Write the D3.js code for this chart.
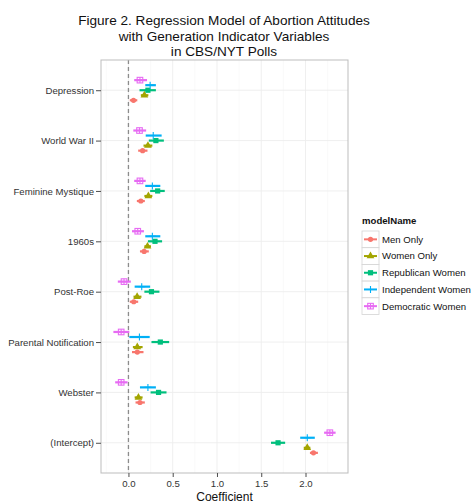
<!DOCTYPE html>
<html>
<head>
<meta charset="utf-8">
<script src="https://cdn.jsdelivr.net/npm/d3@7"></script>
<style>
body { margin: 0; background: #fff; }
svg text { font-family: Arial, "Liberation Sans", sans-serif; }
</style>
</head>
<body>
<div id="chart"></div>
<script>
// categories top to bottom
var terms = ["Depression", "World War II", "Feminine Mystique", "1960s",
             "Post-Roe", "Parental Notification", "Webster", "(Intercept)"];
var models = ["Men Only", "Women Only", "Republican Women", "Independent Women", "Democratic Women"];
var colors = ["#F8766D", "#A3A500", "#00BF7D", "#00B0F6", "#E76BF3"];
var xTicks = [0, 0.5, 1, 1.5, 2];
var xMinor = [-0.25, 0.25, 0.75, 1.25, 1.75, 2.25];
var titleLines = ["Figure 2. Regression Model of Abortion Attitudes",
                  "with Generation Indicator Variables",
                  "in CBS/NYT Polls"];

// estimates and interval ends, one entry per term
var menEst = [0.057, 0.16, 0.14, 0.177, 0.06, 0.10, 0.13, 2.09];
var menLo  = [0.015, 0.11, 0.095, 0.13, 0.015, 0.04, 0.08, 2.05];
var menHi  = [0.10, 0.215, 0.185, 0.23, 0.11, 0.17, 0.185, 2.14];

var womenEst = [0.18, 0.22, 0.225, 0.215, 0.098, 0.10, 0.113, 2.02];
var womenLo  = [0.14, 0.17, 0.18, 0.18, 0.057, 0.05, 0.07, 1.98];
var womenHi  = [0.225, 0.27, 0.27, 0.255, 0.147, 0.16, 0.16, 2.055];

var repEst = [0.22, 0.31, 0.33, 0.30, 0.26, 0.36, 0.34, 1.69];
var repLo  = [0.125, 0.23, 0.245, 0.22, 0.18, 0.26, 0.25, 1.61];
var repHi  = [0.31, 0.40, 0.41, 0.38, 0.35, 0.46, 0.43, 1.77];

var indEst = [0.245, 0.28, 0.27, 0.27, 0.15, 0.124, 0.22, 2.02];
var indLo  = [0.19, 0.195, 0.19, 0.19, 0.07, 0.01, 0.13, 1.94];
var indHi  = [0.31, 0.375, 0.36, 0.36, 0.245, 0.24, 0.31, 2.105];

var demEst = [0.13, 0.125, 0.13, 0.105, -0.05, -0.082, -0.082, 2.275];
var demLo  = [0.065, 0.055, 0.065, 0.04, -0.12, -0.17, -0.15, 2.21];
var demHi  = [0.21, 0.2, 0.195, 0.175, 0.027, 0.01, -0.01, 2.34];

var estimates = [menEst, womenEst, repEst, indEst, demEst];
var lows = [menLo, womenLo, repLo, indLo, demLo];
var highs = [menHi, womenHi, repHi, indHi, demHi];

var W = 472, H = 504;
var panel = {left: 101, right: 348, top: 60, bottom: 473};
var FONT = "Arial, 'Liberation Sans', sans-serif";

var svg = d3.select("#chart").append("svg")
    .attr("width", W).attr("height", H);

var x = d3.scaleLinear().domain([-0.31, 2.48]).range([panel.left, panel.right]);
var y = d3.scalePoint().domain(terms).range([panel.top, panel.bottom]).padding(0.6);
var dodge = d3.scalePoint().domain(models).range([0.2, -0.2]);
var color = d3.scaleOrdinal().domain(models).range(colors);

// rows for drawing
var rows = [];
models.forEach(function(m, i){
    terms.forEach(function(t, j){
        rows.push({model: m, term: t, est: estimates[i][j], lo: lows[i][j], hi: highs[i][j]});
    });
});
function yPos(d){ return y(d.term) + dodge(d.model) * y.step(); }

// panel background + grid
svg.append("rect")
    .attr("x", panel.left).attr("y", panel.top)
    .attr("width", panel.right - panel.left).attr("height", panel.bottom - panel.top)
    .attr("fill", "#fff");

svg.selectAll(".minor").data(xMinor).enter().append("line")
    .attr("x1", x).attr("x2", x)
    .attr("y1", panel.top).attr("y2", panel.bottom)
    .attr("stroke", "#F7F7F7").attr("stroke-width", 0.6);
svg.selectAll(".majorx").data(xTicks).enter().append("line")
    .attr("x1", x).attr("x2", x)
    .attr("y1", panel.top).attr("y2", panel.bottom)
    .attr("stroke", "#EDEDED").attr("stroke-width", 0.9);
svg.selectAll(".majory").data(terms).enter().append("line")
    .attr("x1", panel.left).attr("x2", panel.right)
    .attr("y1", y).attr("y2", y)
    .attr("stroke", "#EDEDED").attr("stroke-width", 0.9);

// zero line
svg.append("line")
    .attr("x1", x(0)).attr("x2", x(0))
    .attr("y1", panel.top).attr("y2", panel.bottom)
    .attr("stroke", "#8C8C8C").attr("stroke-width", 1.3)
    .attr("stroke-dasharray", "4,3");

// marker drawing
function drawMarker(g, model, cx, cy){
    var c = color(model);
    if(model === "Men Only"){
        g.append("circle").attr("cx", cx).attr("cy", cy).attr("r", 2.6).attr("fill", c);
    } else if(model === "Women Only"){
        g.append("path").attr("transform", "translate(" + cx + "," + cy + ")")
            .attr("d", d3.symbol().type(d3.symbolTriangle).size(26)).attr("fill", c);
    } else if(model === "Republican Women"){
        g.append("rect").attr("x", cx - 2.6).attr("y", cy - 2.6)
            .attr("width", 5.2).attr("height", 5.2).attr("fill", c);
    } else if(model === "Independent Women"){
        g.append("path").attr("d", "M" + (cx - 3.5) + "," + cy + "H" + (cx + 3.5) +
                "M" + cx + "," + (cy - 3.5) + "V" + (cy + 3.5))
            .attr("stroke", c).attr("stroke-width", 1.1).attr("fill", "none");
    } else {
        g.append("rect").attr("x", cx - 2.8).attr("y", cy - 2.8)
            .attr("width", 5.6).attr("height", 5.6)
            .attr("fill", "none").attr("stroke", c).attr("stroke-width", 1.1);
        g.append("path").attr("d", "M" + (cx - 2.8) + "," + cy + "H" + (cx + 2.8) +
                "M" + cx + "," + (cy - 2.8) + "V" + (cy + 2.8))
            .attr("stroke", c).attr("stroke-width", 1.1).attr("fill", "none");
    }
}

var marks = svg.append("g");
marks.selectAll(".range").data(rows).enter().append("line")
    .attr("x1", function(d){ return x(d.lo); })
    .attr("x2", function(d){ return x(d.hi); })
    .attr("y1", yPos).attr("y2", yPos)
    .attr("stroke", function(d){ return color(d.model); })
    .attr("stroke-width", 2.2);
rows.forEach(function(d){
    drawMarker(marks, d.model, x(d.est), yPos(d));
});

// panel border
svg.append("rect")
    .attr("x", panel.left).attr("y", panel.top)
    .attr("width", panel.right - panel.left).attr("height", panel.bottom - panel.top)
    .attr("fill", "none").attr("stroke", "#BDBDBD").attr("stroke-width", 1);

// axes
var xAxis = svg.append("g")
    .attr("transform", "translate(0," + panel.bottom + ")")
    .call(d3.axisBottom(x).tickValues(xTicks).tickFormat(d3.format(".1f")).tickSize(4).tickPadding(3));
var yAxis = svg.append("g")
    .attr("transform", "translate(" + panel.left + ",0)")
    .call(d3.axisLeft(y).tickSize(5).tickPadding(2));
[xAxis, yAxis].forEach(function(a){
    a.attr("font-family", null).attr("font-size", null);
    a.select(".domain").remove();
    a.selectAll(".tick line").attr("stroke", "#4D4D4D");
    a.selectAll(".tick text").attr("fill", "#333").style("font-size", "9.6px")
        .style("font-family", FONT);
});

svg.append("text")
    .attr("x", (panel.left + panel.right) / 2).attr("y", 501)
    .attr("text-anchor", "middle").style("font-size", "12px").attr("fill", "#111")
    .text("Coefficient");

// title
svg.selectAll(".title").data(titleLines).enter().append("text")
    .attr("x", 224).attr("y", function(d, i){ return 25 + i * 15.5; })
    .attr("text-anchor", "middle").style("font-size", "13.6px").attr("fill", "#111")
    .text(function(d){ return d; });

// legend
var legend = svg.append("g").attr("transform", "translate(362,0)");
legend.append("text").attr("x", 0).attr("y", 224)
    .style("font-size", "9.6px").style("font-weight", "bold").attr("fill", "#111")
    .text("modelName");
var keyH = 16.7, key0 = 231;
models.forEach(function(m, i){
    var ky = key0 + i * keyH;
    legend.append("rect").attr("x", 0).attr("y", ky)
        .attr("width", 17).attr("height", keyH)
        .attr("fill", "#fff").attr("stroke", "#D4D4D4").attr("stroke-width", 0.8);
    legend.append("line").attr("x1", 2).attr("x2", 15)
        .attr("y1", ky + keyH / 2).attr("y2", ky + keyH / 2)
        .attr("stroke", color(m)).attr("stroke-width", 2);
    drawMarker(legend, m, 8.5, ky + keyH / 2);
    legend.append("text").attr("x", 20).attr("y", ky + keyH / 2 + 3.4)
        .style("font-size", "9.6px").attr("fill", "#111").text(m);
});
</script>
</body>
</html>
